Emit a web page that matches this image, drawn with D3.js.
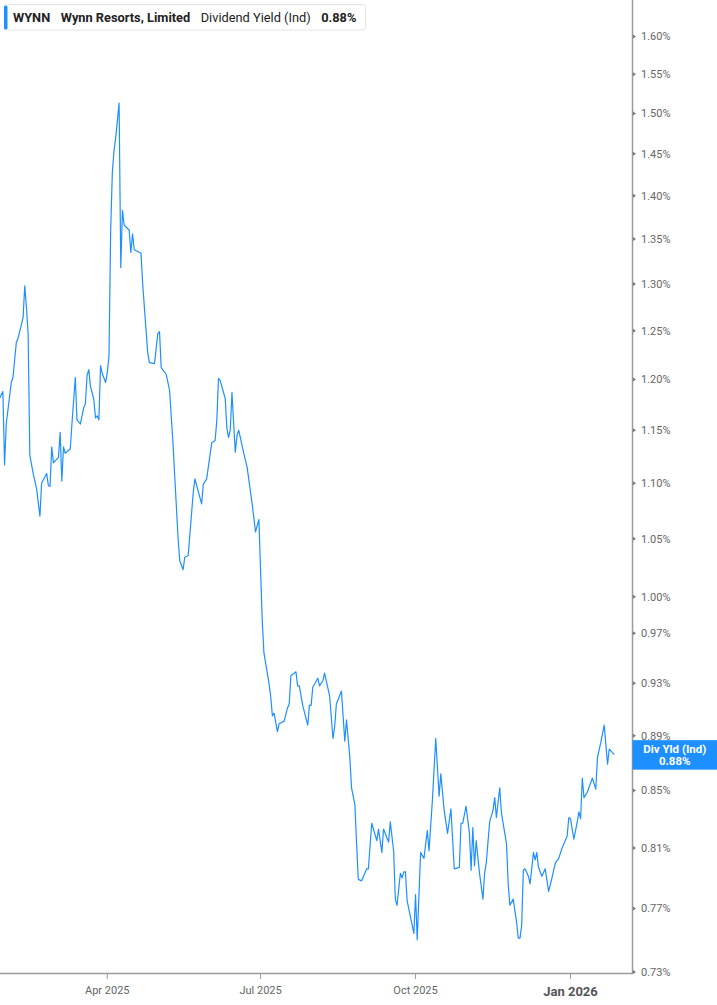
<!DOCTYPE html>
<html>
<head>
<meta charset="utf-8">
<script src="https://cdn.jsdelivr.net/npm/d3@7"></script>
<style>
  html, body { margin: 0; padding: 0; background: #fff; }
  svg { display: block; font-family: Roboto, "Noto Sans", Arial, sans-serif; }
</style>
</head>
<body>
<div id="chart"></div>
<script>
/*
* WYNN dividend yield (ind) chart
*/

// dates of the plotted points
var dates = [
    "2025-01-27","2025-01-29","2025-01-30","2025-01-31","2025-02-03","2025-02-04","2025-02-06","2025-02-07",
    "2025-02-10","2025-02-11","2025-02-12","2025-02-13","2025-02-14","2025-02-16","2025-02-18","2025-02-20",
    "2025-02-21","2025-02-24","2025-02-25","2025-02-26","2025-02-27","2025-02-28","2025-03-03","2025-03-04",
    "2025-03-05","2025-03-06","2025-03-07","2025-03-10","2025-03-11","2025-03-13","2025-03-14","2025-03-16",
    "2025-03-18","2025-03-19","2025-03-20","2025-03-21","2025-03-22","2025-03-24","2025-03-25","2025-03-26",
    "2025-03-27","2025-03-28","2025-03-29","2025-03-31","2025-04-01","2025-04-02","2025-04-03","2025-04-04",
    "2025-04-05","2025-04-06","2025-04-08","2025-04-09","2025-04-10","2025-04-11","2025-04-14","2025-04-15",
    "2025-04-16","2025-04-17","2025-04-21","2025-04-22","2025-04-25","2025-04-26","2025-04-29","2025-05-01",
    "2025-05-02","2025-05-03","2025-05-06","2025-05-08","2025-05-10","2025-05-13","2025-05-14","2025-05-16",
    "2025-05-17","2025-05-19","2025-05-22","2025-05-23","2025-05-27","2025-05-28","2025-05-30","2025-06-02",
    "2025-06-04","2025-06-05","2025-06-06","2025-06-07","2025-06-10","2025-06-11","2025-06-12","2025-06-13",
    "2025-06-14","2025-06-16","2025-06-17","2025-06-18","2025-06-21","2025-06-23","2025-06-26","2025-06-28",
    "2025-06-30","2025-07-02","2025-07-03","2025-07-06","2025-07-07","2025-07-08","2025-07-09","2025-07-11",
    "2025-07-12","2025-07-15","2025-07-17","2025-07-18","2025-07-19","2025-07-22","2025-07-23","2025-07-24",
    "2025-07-26","2025-07-29","2025-07-30","2025-07-31","2025-08-01","2025-08-04","2025-08-05","2025-08-07",
    "2025-08-08","2025-08-11","2025-08-13","2025-08-14","2025-08-15","2025-08-18","2025-08-20","2025-08-21",
    "2025-08-23","2025-08-24","2025-08-26","2025-08-27","2025-08-28","2025-08-30","2025-09-02","2025-09-03",
    "2025-09-05","2025-09-08","2025-09-09","2025-09-11","2025-09-12","2025-09-15","2025-09-16","2025-09-18",
    "2025-09-19","2025-09-20","2025-09-22","2025-09-23","2025-09-24","2025-09-25","2025-09-26","2025-09-30",
    "2025-10-01","2025-10-02","2025-10-04","2025-10-06","2025-10-08","2025-10-09","2025-10-11","2025-10-13",
    "2025-10-15","2025-10-16","2025-10-18","2025-10-20","2025-10-22","2025-10-24","2025-10-27","2025-10-28",
    "2025-10-29","2025-10-31","2025-11-02","2025-11-03","2025-11-04","2025-11-05","2025-11-06","2025-11-08",
    "2025-11-10","2025-11-11","2025-11-12","2025-11-14","2025-11-16","2025-11-17","2025-11-18","2025-11-20",
    "2025-11-21","2025-11-24","2025-11-25","2025-11-26","2025-11-28","2025-11-30","2025-12-01","2025-12-02",
    "2025-12-03","2025-12-04","2025-12-05","2025-12-07","2025-12-08","2025-12-10","2025-12-11","2025-12-12",
    "2025-12-13","2025-12-15","2025-12-17","2025-12-19","2025-12-21","2025-12-23","2025-12-25","2025-12-27",
    "2025-12-30","2025-12-31","2026-01-01","2026-01-03","2026-01-05","2026-01-06","2026-01-07","2026-01-08",
    "2026-01-09","2026-01-11","2026-01-14","2026-01-16","2026-01-17","2026-01-19","2026-01-21","2026-01-23",
    "2026-01-24","2026-01-27"
];

// dividend yield (ind), percent
var divYield = [
    1.181,1.188,1.117,1.156,1.197,1.202,1.238,1.242,
    1.264,1.298,1.275,1.247,1.126,1.109,1.095,1.070,
    1.100,1.109,1.098,1.097,1.134,1.119,1.124,1.148,
    1.102,1.134,1.128,1.132,1.156,1.202,1.160,1.156,
    1.172,1.176,1.204,1.210,1.193,1.180,1.162,1.164,
    1.160,1.214,1.206,1.197,1.207,1.224,1.360,1.428,
    1.454,1.470,1.513,1.318,1.383,1.366,1.360,1.335,
    1.356,1.338,1.334,1.300,1.227,1.217,1.216,1.247,
    1.249,1.212,1.205,1.189,1.137,1.051,1.031,1.023,
    1.034,1.035,1.091,1.104,1.081,1.099,1.104,1.138,
    1.140,1.159,1.201,1.199,1.181,1.152,1.143,1.150,
    1.187,1.129,1.145,1.150,1.128,1.115,1.081,1.056,
    1.067,0.980,0.954,0.930,0.920,0.905,0.907,0.893,
    0.899,0.901,0.911,0.914,0.936,0.939,0.928,0.928,
    0.913,0.898,0.913,0.913,0.927,0.934,0.928,0.932,
    0.938,0.920,0.888,0.897,0.914,0.924,0.886,0.902,
    0.874,0.852,0.840,0.813,0.789,0.788,0.796,0.796,
    0.827,0.815,0.823,0.807,0.823,0.814,0.828,0.808,
    0.776,0.772,0.793,0.790,0.794,0.794,0.775,0.754,
    0.779,0.750,0.807,0.803,0.822,0.808,0.843,0.888,
    0.846,0.862,0.836,0.820,0.837,0.796,0.797,0.827,
    0.827,0.839,0.820,0.795,0.824,0.798,0.815,0.793,
    0.776,0.793,0.800,0.828,0.836,0.845,0.831,0.852,
    0.834,0.813,0.786,0.772,0.776,0.761,0.751,0.751,
    0.759,0.795,0.796,0.791,0.786,0.807,0.802,0.807,
    0.797,0.791,0.796,0.781,0.790,0.800,0.803,0.810,
    0.818,0.831,0.830,0.816,0.828,0.835,0.830,0.859,
    0.845,0.849,0.859,0.851,0.874,0.885,0.898,0.869,
    0.880,0.876
];

// right axis ticks
var yTicks = [1.60, 1.55, 1.50, 1.45, 1.40, 1.35, 1.30, 1.25, 1.20, 1.15, 1.10, 1.05,
              1.00, 0.97, 0.93, 0.89, 0.85, 0.81, 0.77, 0.73];

// bottom axis ticks (quarter starts)
var xTicks = ["2025-04-01", "2025-07-01", "2025-10-01", "2026-01-01"];
var xTickLabels = ["Apr 2025", "Jul 2025", "Oct 2025", "Jan 2026"];

// legend pieces
var legendItems = [
    { "text": "WYNN", "bold": true },
    { "text": "Wynn Resorts, Limited", "bold": true },
    { "text": "Dividend Yield (Ind)", "bold": false },
    { "text": "0.88%", "bold": true }
];

(function () {

    "use strict";

    var W = 717,
        H = 1005,
        plotRight = 632.5,
        plotBottom = 973.5,
        lineColor = "#1e8fff",
        axisColor = "#9a9a9a",
        parse = d3.timeParse("%Y-%m-%d");

    var data = dates.map(function (d, i) {
        return { date: parse(d), value: divYield[i] };
    });

    var x = d3.scaleTime()
        .domain([parse("2025-04-01"), parse("2026-01-01")])
        .range([107.3, 570.5]);

    var y = d3.scaleLog()
        .domain([0.73, 1.60])
        .range([972, 36.5]);

    var svg = d3.select("#chart")
        .append("svg")
            .attr("width", W)
            .attr("height", H);

    svg.append("defs")
        .append("clipPath")
            .attr("id", "plot-clip")
        .append("rect")
            .attr("x", 0)
            .attr("y", 0)
            .attr("width", plotRight)
            .attr("height", plotBottom);

    // the series
    var line = d3.line()
        .x(function (d) { return x(d.date); })
        .y(function (d) { return y(d.value); });

    svg.append("path")
        .datum(data)
        .attr("clip-path", "url(#plot-clip)")
        .attr("fill", "none")
        .attr("stroke", lineColor)
        .attr("stroke-width", 1.2)
        .attr("stroke-linejoin", "round")
        .attr("d", line);

    // axes lines
    svg.append("line")
        .attr("x1", 0).attr("x2", plotRight + 0.5)
        .attr("y1", plotBottom).attr("y2", plotBottom)
        .attr("stroke", axisColor)
        .attr("stroke-width", 1.5);

    svg.append("line")
        .attr("x1", plotRight).attr("x2", plotRight)
        .attr("y1", 0).attr("y2", plotBottom)
        .attr("stroke", axisColor)
        .attr("stroke-width", 1.5);

    // bottom ticks + labels
    var xg = svg.append("g").attr("class", "x-ticks");

    xTicks.forEach(function (t, i) {
        var px = x(parse(t)),
            isYear = t.slice(5) === "01-01";

        xg.append("line")
            .attr("x1", px).attr("x2", px)
            .attr("y1", plotBottom).attr("y2", plotBottom + 5.5)
            .attr("stroke", axisColor)
            .attr("stroke-width", 1);

        xg.append("text")
            .attr("x", px)
            .attr("y", isYear ? 996 : 994)
            .attr("text-anchor", "middle")
            .attr("font-size", isYear ? 13 : 11)
            .attr("font-weight", isYear ? "bold" : "normal")
            .attr("fill", isYear ? "#555" : "#666")
            .text(xTickLabels[i]);
    });

    // right ticks + labels
    var yg = svg.append("g").attr("class", "y-ticks");

    yTicks.forEach(function (v) {
        var py = y(v);

        yg.append("path")
            .attr("d", "M" + (plotRight + 0.5) + "," + (py - 2) + "L" + (plotRight + 3.5) + "," + py + "L" + (plotRight + 0.5) + "," + (py + 2) + "Z")
            .attr("fill", "#777");

        yg.append("text")
            .attr("x", 641)
            .attr("y", py)
            .attr("dy", "0.35em")
            .attr("font-size", 11)
            .attr("fill", "#666")
            .text(v.toFixed(2) + "%");
    });

    // last value flag on the right axis
    var last = data[data.length - 1],
        ly = y(last.value);

    var flag = svg.append("g").attr("class", "last-flag");

    flag.append("rect")
        .attr("x", plotRight)
        .attr("y", ly - 14.5)
        .attr("width", W - plotRight)
        .attr("height", 29.5)
        .attr("fill", lineColor);

    flag.append("text")
        .attr("x", (plotRight + W) / 2)
        .attr("y", ly - 2)
        .attr("text-anchor", "middle")
        .attr("font-size", 11.5)
        .attr("font-weight", "bold")
        .attr("fill", "#fff")
        .text("Div Yld (Ind)");

    flag.append("text")
        .attr("x", (plotRight + W) / 2)
        .attr("y", ly + 10.5)
        .attr("text-anchor", "middle")
        .attr("font-size", 11.5)
        .attr("font-weight", "bold")
        .attr("fill", "#fff")
        .text(last.value.toFixed(2) + "%");

    // legend box top left
    var lg = svg.append("g").attr("class", "legend");

    lg.append("rect")
        .attr("x", 4.5).attr("y", 4.5)
        .attr("width", 361).attr("height", 25.5)
        .attr("rx", 3)
        .attr("fill", "#fff")
        .attr("stroke", "#e4e4e4");

    lg.append("rect")
        .attr("x", 4).attr("y", 5.5)
        .attr("width", 3.5).attr("height", 24)
        .attr("rx", 1.5)
        .attr("fill", lineColor);

    var lx = 13;
    legendItems.forEach(function (item) {
        var t = lg.append("text")
            .attr("x", lx)
            .attr("y", 21.5)
            .attr("font-size", 12.8)
            .attr("font-weight", item.bold ? "bold" : "normal")
            .attr("fill", "#222")
            .text(item.text);
        lx += t.node().getComputedTextLength() + 10.5;
    });

}());
</script>
</body>
</html>
